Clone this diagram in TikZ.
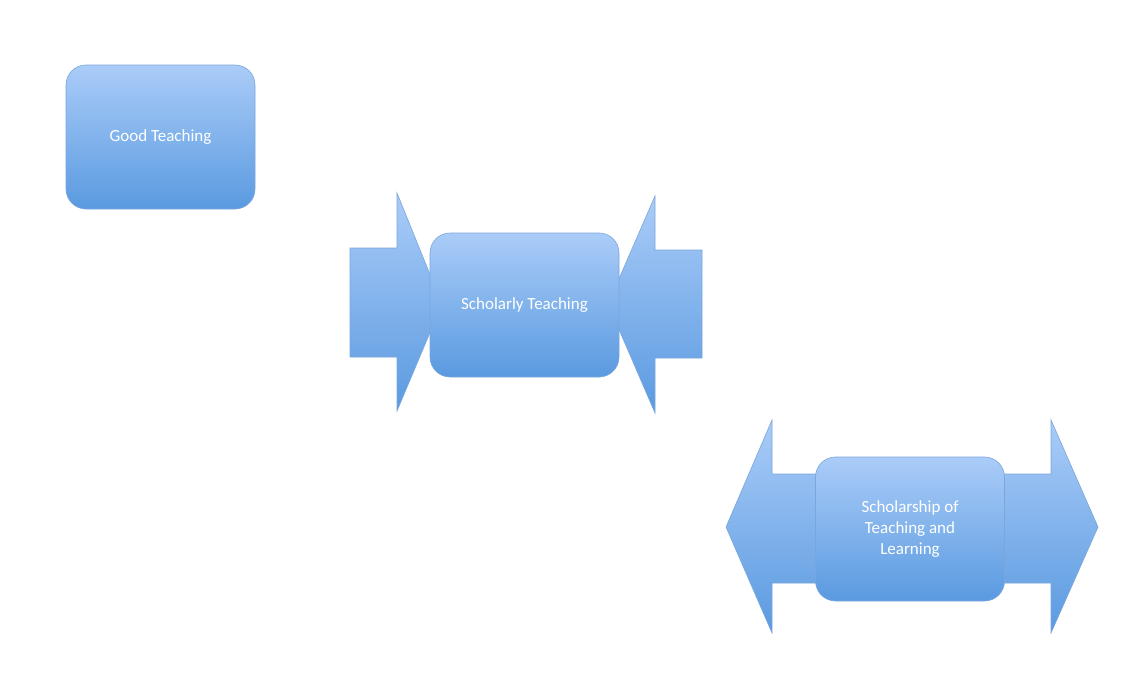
\documentclass[tikz,border=0pt]{standalone}
\usepackage{fontspec}
\setmainfont{Carlito}
\definecolor{topc}{HTML}{AACCF8}
\definecolor{botc}{HTML}{5A9AE0}
\definecolor{edgec}{HTML}{7AA6DC}
\begin{document}
\begin{tikzpicture}[x=1pt,y=-1pt,
  shp/.style={top color=topc,bottom color=botc,draw=edgec,line width=0.6pt},
  boxs/.style={shp,rounded corners=20pt,minimum width=189pt,minimum height=144pt,inner sep=0pt,
    text=white,font=\fontsize{17}{21}\selectfont,align=center}]
\useasboundingbox[fill=white] (0,0) rectangle (1140,680);
% arrows behind
\path[shp] (350,248) -- (397,248) -- (397,193) -- (442,304) -- (397,411) -- (397,357) -- (350,357) -- cycle;
\path[shp] (702,250) -- (655,250) -- (655,196) -- (608,304) -- (655,413) -- (655,358) -- (702,358) -- cycle;
\path[shp] (726,527) -- (772,420) -- (772,474) -- (1051,474) -- (1051,420) -- (1098,527) -- (1051,633) -- (1051,583) -- (772,583) -- (772,633) -- cycle;
\node[boxs] (good) at (160.5,137) {Good Teaching};
\node[boxs] (sch) at (524.5,305) {Scholarly Teaching};
\node[boxs] (sotl) at (910,529) {Scholarship of\\Teaching and\\Learning};
\end{tikzpicture}
\end{document}
